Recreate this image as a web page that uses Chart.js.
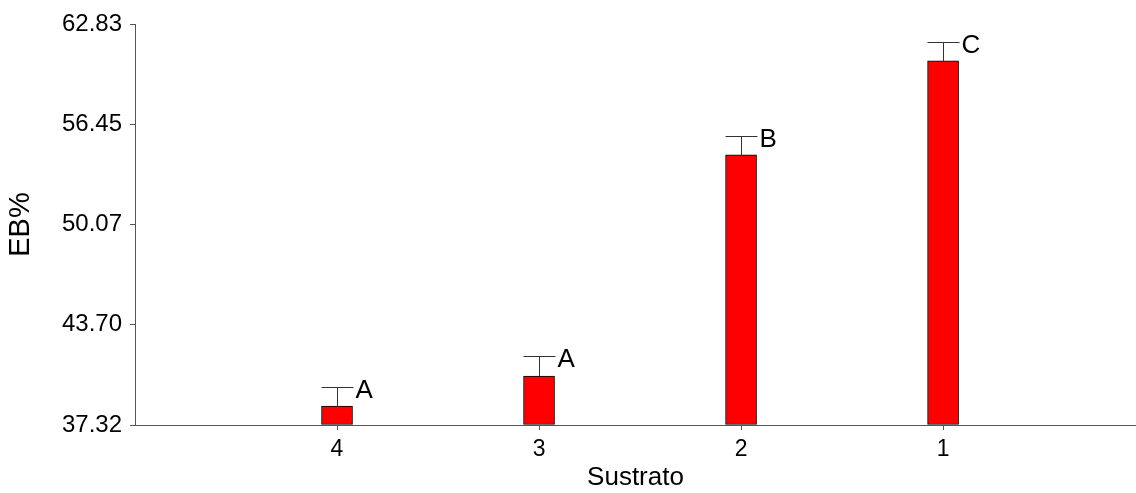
<!DOCTYPE html>
<html>
<head>
<meta charset="utf-8">
<script src="https://cdn.jsdelivr.net/npm/chart.js@4/dist/chart.umd.min.js"></script>
<style>
  html, body { margin: 0; padding: 0; background: #fff; }
  #wrap { width: 1136px; height: 493px; }
</style>
</head>
<body>
<div id="wrap"><canvas id="c" width="1136" height="493"></canvas></div>
<script>
// Substrate groups, mean EB% and the upward error for each
const categories = ['4', '3', '2', '1'];
const positions = [1, 2, 3, 4];
const means = [38.53, 40.44, 54.50, 60.48];
const errors = [1.23, 1.29, 1.19, 1.22];
const letters = ['A', 'A', 'B', 'C'];
const yTicks = [37.32, 43.70, 50.07, 56.45, 62.83];

const FONT = "'Liberation Sans', Arial, sans-serif";
const AXIS = '#555555';

// Error bars with caps and the significance letters beside them
const errorBarPlugin = {
  id: 'errorBars',
  afterDatasetsDraw(chart) {
    const ctx = chart.ctx;
    const xs = chart.scales.x, ys = chart.scales.y;
    const half = 16;
    ctx.save();
    ctx.strokeStyle = '#333333';
    ctx.lineWidth = 1;
    ctx.fillStyle = '#000';
    ctx.font = '26px ' + FONT;
    ctx.textAlign = 'left';
    ctx.textBaseline = 'middle';
    means.forEach((m, i) => {
      const cx = Math.round(xs.getPixelForValue(positions[i])) + 0.5;
      const yTop = ys.getPixelForValue(m);
      const yCap = Math.round(ys.getPixelForValue(m + errors[i])) + 0.5;
      ctx.beginPath();
      ctx.moveTo(cx, yTop);
      ctx.lineTo(cx, yCap);
      ctx.moveTo(cx - half, yCap);
      ctx.lineTo(cx + half, yCap);
      ctx.stroke();
      ctx.fillText(letters[i], cx + 18, yCap + 3);
    });
    ctx.restore();
  }
};

new Chart(document.getElementById('c'), {
  type: 'bar',
  data: {
    datasets: [{
      data: positions.map((p, i) => ({ x: p, y: means[i] })),
      backgroundColor: '#ff0000',
      borderColor: '#000000',
      borderWidth: 1,
      borderSkipped: false,
      barThickness: 31,
      base: yTicks[0]
    }]
  },
  options: {
    responsive: false,
    animation: false,
    layout: { padding: { top: 24, right: 0, left: 0, bottom: 0 } },
    plugins: { legend: { display: false }, tooltip: { enabled: false } },
    scales: {
      x: {
        type: 'linear',
        offset: false,
        min: 0,
        max: 4.955,
        afterBuildTicks(scale) { scale.ticks = positions.map(v => ({ value: v })); },
        afterFit(scale) { scale.height = 68; },
        ticks: {
          callback: (v) => categories[positions.indexOf(v)] ?? '',
          color: '#000',
          font: { family: FONT, size: 23 },
          padding: 6,
          maxRotation: 0
        },
        grid: { offset: false, drawOnChartArea: false, drawTicks: true, tickLength: 5, color: AXIS },
        border: { display: true, color: AXIS, width: 1 },
        title: {
          display: true,
          text: 'Sustrato',
          color: '#000',
          font: { family: FONT, size: 26 },
          padding: { top: 0, bottom: 0 }
        }
      },
      y: {
        min: yTicks[0],
        max: yTicks[yTicks.length - 1],
        afterBuildTicks(scale) { scale.ticks = yTicks.map(v => ({ value: v })); },
        afterFit(scale) { scale.width = 135; },
        ticks: {
          callback: (v) => Number(v).toFixed(2),
          color: '#000',
          font: { family: FONT, size: 24 },
          padding: 8
        },
        grid: { drawOnChartArea: false, drawTicks: true, tickLength: 5, color: AXIS },
        border: { display: true, color: AXIS, width: 1 },
        title: {
          display: true,
          text: 'EB%',
          color: '#000',
          font: { family: FONT, size: 29 },
          padding: { top: 4, bottom: 0 }
        }
      }
    }
  },
  plugins: [errorBarPlugin]
});
</script>
</body>
</html>
